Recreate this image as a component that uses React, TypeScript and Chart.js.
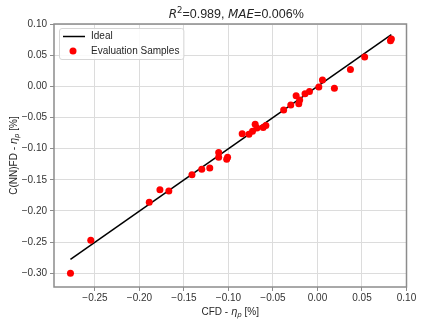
import React, { useEffect, useRef } from "react";
import { Chart, registerables } from "chart.js";

Chart.register(...registerables);

// ---- data ----
const cfdValues = [
  -0.2775, -0.2547, -0.189, -0.177, -0.167, -0.141, -0.13, -0.121, -0.111, -0.111,
  -0.102, -0.101, -0.0846, -0.077, -0.073, -0.07, -0.068, -0.061, -0.058, -0.038,
  -0.03, -0.021, -0.02, -0.024, -0.014, -0.009, 0.0015, 0.0056, 0.019, 0.037,
  0.053, 0.082, 0.083,
];
const nnValues = [
  -0.3, -0.247, -0.186, -0.166, -0.168, -0.142, -0.133, -0.131, -0.106, -0.114,
  -0.117, -0.114, -0.076, -0.077, -0.072, -0.061, -0.067, -0.066, -0.063, -0.038,
  -0.03, -0.028, -0.022, -0.015, -0.012, -0.0085, -0.001, 0.01, -0.003, 0.027,
  0.047, 0.073, 0.076,
];
const idealRange = [-0.2775, 0.083];
const xTickValues = [-0.25, -0.2, -0.15, -0.1, -0.05, 0, 0.05, 0.1];
const yTickValues = [-0.3, -0.25, -0.2, -0.15, -0.1, -0.05, 0, 0.05, 0.1];
const xLimits = [-0.296, 0.1];
const yLimits = [-0.322, 0.1];
const seriesLabels = ["Ideal", "Evaluation Samples"];
const titleText = { r: "R", sup: "2", r2: "=0.989, ", mae: "MAE", maeVal: "=0.006%" };
const xTitleText = { pre: "CFD - ", eta: "η", sub: "p", post: " [%]" };
const yTitleText = { pre: "C(NN)FD - ", eta: "η", sub: "p", post: " [%]" };

const TEXT = "#262626";
const SANS = "'Liberation Sans', Arial, sans-serif";
const MATH = "'DejaVu Sans', sans-serif";

type Seg = { text: string; font: string; dy?: number };

function drawRich(ctx: CanvasRenderingContext2D, segs: Seg[], cx: number, cy: number, rot: number) {
  ctx.save();
  ctx.translate(cx, cy);
  ctx.rotate(rot);
  let total = 0;
  const widths = segs.map((s) => {
    ctx.font = s.font;
    const w = ctx.measureText(s.text).width;
    total += w;
    return w;
  });
  let x = -total / 2;
  ctx.textAlign = "left";
  ctx.textBaseline = "alphabetic";
  ctx.fillStyle = TEXT;
  segs.forEach((s, i) => {
    ctx.font = s.font;
    ctx.fillText(s.text, x, s.dy || 0);
    x += widths[i];
  });
  ctx.restore();
}

const fmt = (v: number) => (v < 0 ? "\u2212" : "") + Math.abs(v).toFixed(2);

const decorPlugin = {
  id: "decor",
  afterDraw(chart: any) {
    const ctx: CanvasRenderingContext2D = chart.ctx;
    const a = chart.chartArea;
    // spines
    ctx.save();
    ctx.strokeStyle = "#8c8c8c";
    ctx.lineWidth = 1.5;
    ctx.strokeRect(a.left, a.top, a.right - a.left, a.bottom - a.top);
    ctx.restore();

    // title
    const cx = (a.left + a.right) / 2 + 6;
    drawRich(
      ctx,
      [
        { text: titleText.r, font: `italic 12px ${MATH}` },
        { text: titleText.sup, font: `8.5px ${MATH}`, dy: -5 },
        { text: titleText.r2, font: `12.5px ${SANS}` },
        { text: titleText.mae, font: `italic 12px ${MATH}` },
        { text: titleText.maeVal, font: `12.5px ${SANS}` },
      ],
      cx,
      18,
      0
    );

    // axis titles
    drawRich(
      ctx,
      [
        { text: xTitleText.pre, font: `10px ${SANS}` },
        { text: xTitleText.eta, font: `italic 10px ${MATH}` },
        { text: xTitleText.sub, font: `italic 7px ${MATH}`, dy: 2 },
        { text: xTitleText.post, font: `10px ${SANS}` },
      ],
      (a.left + a.right) / 2,
      315,
      0
    );
    drawRich(
      ctx,
      [
        { text: yTitleText.pre, font: `10px ${SANS}` },
        { text: yTitleText.eta, font: `italic 10px ${MATH}` },
        { text: yTitleText.sub, font: `italic 7px ${MATH}`, dy: 2 },
        { text: yTitleText.post, font: `10px ${SANS}` },
      ],
      16.5,
      (a.top + a.bottom) / 2,
      -Math.PI / 2
    );

    // legend
    const lx = a.left + 5;
    const ly = a.top + 4;
    ctx.save();
    ctx.font = `10px ${SANS}`;
    const tw = Math.max(...seriesLabels.map((t) => ctx.measureText(t).width));
    const w = 32 + tw + 4;
    const h = 31;
    ctx.beginPath();
    (ctx as any).roundRect(lx + 0.5, ly + 0.5, w, h, 2.5);
    ctx.fillStyle = "rgba(255,255,255,0.85)";
    ctx.fill();
    ctx.strokeStyle = "#d6d6d6";
    ctx.lineWidth = 1;
    ctx.stroke();
    // line sample
    ctx.beginPath();
    ctx.moveTo(lx + 4, ly + 8.5);
    ctx.lineTo(lx + 26, ly + 8.5);
    ctx.strokeStyle = "#000";
    ctx.lineWidth = 1.5;
    ctx.stroke();
    // marker sample
    ctx.beginPath();
    ctx.arc(lx + 14, ly + 23, 3.5, 0, Math.PI * 2);
    ctx.fillStyle = "#ff0000";
    ctx.fill();
    ctx.fillStyle = TEXT;
    ctx.textBaseline = "middle";
    ctx.textAlign = "left";
    ctx.fillText(seriesLabels[0], lx + 32, ly + 8.5);
    ctx.fillText(seriesLabels[1], lx + 32, ly + 23);
    ctx.restore();
  },
};

export default function App() {
  const canvasRef = useRef<HTMLCanvasElement | null>(null);

  useEffect(() => {
    const canvas = canvasRef.current;
    if (!canvas) return;
    const points = cfdValues.map((x, i) => ({ x, y: nnValues[i] }));
    const ideal = idealRange.map((v) => ({ x: v, y: v }));

    const chart = new Chart(canvas, {
      type: "scatter",
      data: {
        datasets: [
          {
            type: "line",
            label: seriesLabels[0],
            data: ideal,
            borderColor: "#000000",
            borderWidth: 1.5,
            pointRadius: 0,
            showLine: true,
            fill: false,
            order: 2,
          } as any,
          {
            type: "scatter",
            label: seriesLabels[1],
            data: points,
            backgroundColor: "#ff0000",
            borderWidth: 0,
            pointRadius: 3.5,
            pointHoverRadius: 3.5,
            order: 1,
          },
        ],
      },
      options: {
        responsive: false,
        animation: false,
        devicePixelRatio: 1,
        layout: { padding: { top: 24, right: 16.5, left: 0, bottom: 0 } },
        plugins: {
          legend: { display: false },
          title: { display: false },
          tooltip: { enabled: false },
        },
        events: [],
        scales: {
          x: {
            type: "linear",
            min: xLimits[0],
            max: xLimits[1],
            afterBuildTicks: (scale: any) => {
              scale.ticks = xTickValues.map((v) => ({ value: v }));
            },
            afterFit: (scale: any) => {
              scale.height = 38;
            },
            grid: {
              color: "#dcdcdc",
              lineWidth: 1,
              tickLength: 4,
              tickColor: "#8c8c8c",
              tickWidth: 1,
            },
            border: { display: false },
            ticks: {
              color: "#333333",
              font: { family: SANS, size: 10 },
              padding: 1,
              maxRotation: 0,
              autoSkip: false,
              callback: (v: any) => fmt(Number(v)),
            },
          },
          y: {
            type: "linear",
            min: yLimits[0],
            max: yLimits[1],
            afterBuildTicks: (scale: any) => {
              scale.ticks = yTickValues.map((v) => ({ value: v }));
            },
            afterFit: (scale: any) => {
              scale.width = 54;
            },
            grid: {
              color: "#dcdcdc",
              lineWidth: 1,
              tickLength: 4,
              tickColor: "#8c8c8c",
              tickWidth: 1,
            },
            border: { display: false },
            ticks: {
              color: "#333333",
              font: { family: SANS, size: 10 },
              padding: 3,
              autoSkip: false,
              callback: (v: any) => fmt(Number(v)),
            },
          },
        },
      },
      plugins: [decorPlugin],
    });
    return () => chart.destroy();
  }, []);

  return (
    <div style={{ position: "fixed", left: 0, top: 0, width: 423, height: 325, background: "#ffffff" }}>
      <canvas ref={canvasRef} width={423} height={325} style={{ display: "block", width: 423, height: 325 }} />
    </div>
  );
}
